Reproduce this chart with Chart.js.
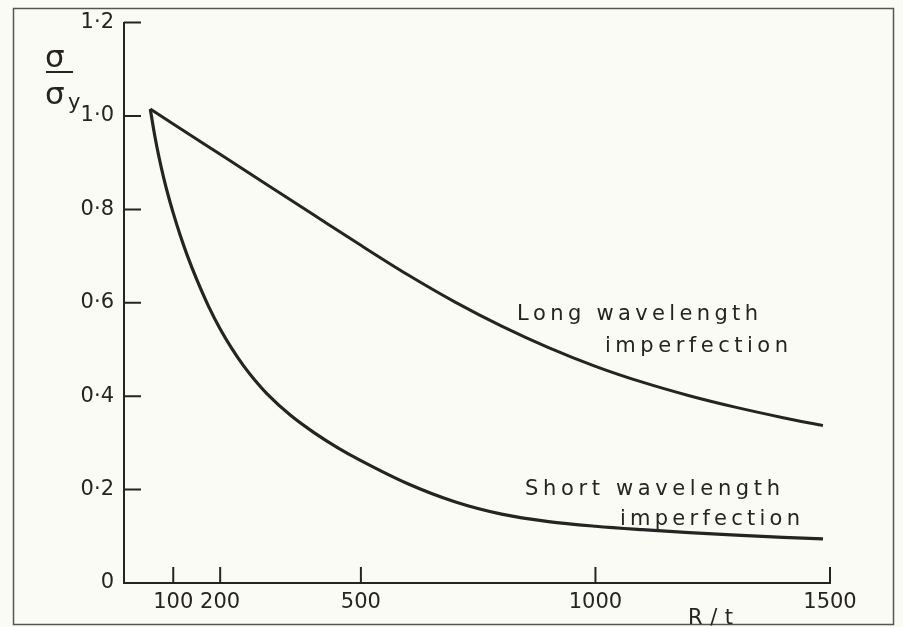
<!DOCTYPE html>
<html>
<head>
<meta charset="utf-8">
<script src="https://cdn.jsdelivr.net/npm/chart.js@4"></script>
<style>
  body { margin: 0; background: #fbfbf6; }
  #wrap { width: 903px; height: 627px; position: relative; }
</style>
</head>
<body>
<div id="wrap"><canvas id="stressChart"></canvas></div>
<script>
// R/t values and sigma/sigma_y
const longR = [51, 100, 200, 300, 400, 500, 600, 700, 800, 900, 1000, 1100, 1200, 1300, 1400, 1485];
const longS = [1.015, 0.983, 0.918, 0.853, 0.788, 0.723, 0.660, 0.602, 0.550, 0.504, 0.464, 0.430, 0.401, 0.376, 0.354, 0.337];

const shortR = [51, 60, 70, 80, 90, 100, 115, 130, 150, 175, 200, 225, 250, 275, 300, 350, 400, 450, 500, 600, 700, 800, 900, 1000, 1100, 1200, 1300, 1400, 1485];
const shortS = [1.015, 0.961, 0.910, 0.866, 0.827, 0.792, 0.744, 0.701, 0.650, 0.593, 0.544, 0.502, 0.465, 0.433, 0.405, 0.359, 0.322, 0.290, 0.262, 0.2125, 0.174, 0.1475, 0.1315, 0.1215, 0.1142, 0.108, 0.1027, 0.0979, 0.0945];

const xTickValues = [100, 200, 500, 1000, 1500];
const xTickLabels = ["100", "200", "500", "1000", "1500"];
const yTickValues = [0, 0.2, 0.4, 0.6, 0.8, 1.0, 1.2];
const yTickLabels = ["0", "0·2", "0·4", "0·6", "0·8", "1·0", "1·2"];

const ink = "#262422";
const font = "'DejaVu Sans', sans-serif";

function toPoints(xs, ys) {
  return xs.map((x, i) => ({ x: x, y: ys[i] }));
}

// draw text stretched over a given width (letter spaced like the stencil lettering)
function spaced(ctx, text, x, y, width) {
  const chars = text.split("");
  const widths = chars.map((c) => ctx.measureText(c).width);
  const total = widths.reduce((a, b) => a + b, 0);
  const gap = (width - total) / (chars.length - 1);
  let cx = x;
  chars.forEach((c, i) => {
    ctx.fillText(c, cx, y);
    cx += widths[i] + gap;
  });
}

const extras = {
  id: "extras",
  afterDraw(chart) {
    const ctx = chart.ctx;
    const xs = chart.scales.x;
    const ys = chart.scales.y;
    const area = chart.chartArea;
    ctx.save();

    // outer frame
    ctx.strokeStyle = "#555";
    ctx.lineWidth = 1.5;
    ctx.strokeRect(13.5, 8.5, 880, 616);

    // inward tick marks
    ctx.strokeStyle = ink;
    ctx.lineWidth = 2;
    ctx.beginPath();
    xTickValues.forEach((v) => {
      const px = xs.getPixelForValue(v);
      ctx.moveTo(px, area.bottom);
      ctx.lineTo(px, area.bottom - 16);
    });
    yTickValues.slice(1).forEach((v) => {
      const py = ys.getPixelForValue(v);
      ctx.moveTo(area.left, py);
      ctx.lineTo(area.left + 17, py);
    });
    ctx.stroke();

    // curve labels
    ctx.fillStyle = ink;
    ctx.textBaseline = "alphabetic";
    ctx.textAlign = "left";
    ctx.font = "21px " + font;
    spaced(ctx, "Long wavelength", 517, 320, 241);
    spaced(ctx, "imperfection", 605, 352, 183);
    spaced(ctx, "Short wavelength", 525, 495, 255);
    spaced(ctx, "imperfection", 620, 525, 180);

    // x axis title
    spaced(ctx, "R / t", 688, 624, 45);

    // y axis title sigma / sigma_y
    ctx.font = "31px " + font;
    ctx.fillText("σ", 45, 67);
    ctx.fillRect(46, 71, 27, 2);
    ctx.fillText("σ", 45, 104);
    ctx.font = "21px " + font;
    ctx.fillText("y", 68, 109);

    ctx.restore();
  }
};

new Chart(document.getElementById("stressChart"), {
  type: "scatter",
  data: {
    datasets: [
      {
        label: "Long wavelength imperfection",
        data: toPoints(longR, longS),
        showLine: true,
        borderColor: ink,
        borderWidth: 3,
        pointRadius: 0,
        cubicInterpolationMode: "monotone",
      },
      {
        label: "Short wavelength imperfection",
        data: toPoints(shortR, shortS),
        showLine: true,
        borderColor: ink,
        borderWidth: 3.2,
        pointRadius: 0,
        cubicInterpolationMode: "monotone",
      },
    ],
  },
  options: {
    responsive: true,
    maintainAspectRatio: false,
    animation: false,
    layout: { padding: { left: 0, top: 22, right: 73, bottom: 0 } },
    plugins: { legend: { display: false }, tooltip: { enabled: false } },
    scales: {
      x: {
        type: "linear",
        min: -5,
        max: 1500,
        afterBuildTicks: (s) => { s.ticks = xTickValues.map((v) => ({ value: v })); },
        afterFit: (s) => { s.height = 44; },
        grid: { display: false, drawTicks: false },
        border: { display: true, color: ink, width: 2 },
        ticks: {
          padding: 7,
          color: ink,
          font: { family: font, size: 21 },
          maxRotation: 0,
          callback: (v) => xTickLabels[xTickValues.indexOf(v)],
        },
      },
      y: {
        min: 0,
        max: 1.2,
        afterBuildTicks: (s) => { s.ticks = yTickValues.map((v) => ({ value: v })); },
        afterFit: (s) => { s.width = 124; },
        grid: { display: false, drawTicks: false },
        border: { display: true, color: ink, width: 2 },
        ticks: {
          padding: 10,
          color: ink,
          font: { family: font, size: 21 },
          callback: (v) => yTickLabels[yTickValues.findIndex((t) => Math.abs(t - v) < 1e-6)],
        },
      },
    },
  },
  plugins: [extras],
});
</script>
</body>
</html>
